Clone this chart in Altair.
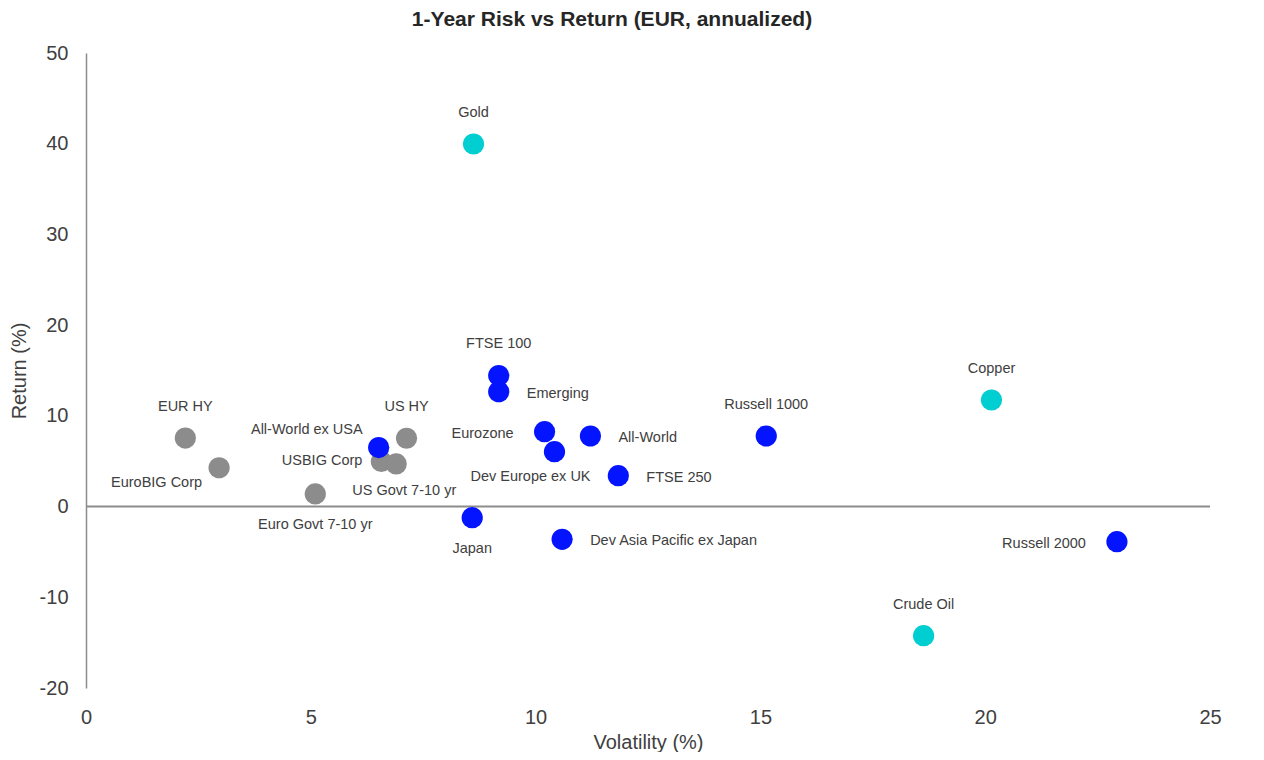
import altair as alt
import pandas as pd

# ---- data ----
names = ["EUR HY", "EuroBIG  Corp", "Euro Govt 7-10 yr", "USBIG Corp", "US Govt 7-10  yr", "US HY",
         "Gold", "Copper", "Crude Oil",
         "All-World ex USA", "FTSE 100", "Emerging", "Eurozone", "Dev Europe  ex UK", "All-World",
         "FTSE 250", "Russell 1000", "Japan", "Dev Asia Pacific ex Japan", "Russell 2000"]
volatility = [2.21, 2.96, 5.10, 6.57, 6.90, 7.13,
              8.62, 20.14, 18.63,
              6.51, 9.18, 9.18, 10.20, 10.42, 11.22,
              11.84, 15.13, 8.59, 10.59, 22.93]
returns = [7.55, 4.28, 1.39, 4.98, 4.70, 7.53,
           39.97, 11.75, -14.23,
           6.50, 14.45, 12.67, 8.26, 6.05, 7.78,
           3.41, 7.78, -1.22, -3.61, -3.87]
groups = ["Bonds"] * 6 + ["Commodities"] * 3 + ["Equities"] * 11
placement = ["above", "lower_left", "below", "left_near", "below_right", "above",
             "above", "above", "above",
             "upper_left", "above", "right", "left", "below_left", "right",
             "right", "above", "below", "right", "left"]

x_ticks = [0, 5, 10, 15, 20, 25]
y_ticks = [-20, -10, 0, 10, 20, 30, 40, 50]

df = pd.DataFrame({"name": names, "vol": volatility, "ret": returns,
                   "group": groups, "place": placement})
zero_df = pd.DataFrame({"x0": [x_ticks[0]], "x1": [x_ticks[-1]], "y": [0]})

# ---- styles ----
FONT = "Liberation Sans"
LABEL_COLOR = "#404040"
group_colors = {"Bonds": "#8c8c8c", "Commodities": "#00ced1", "Equities": "#0514ff"}
presets = {
    "above": ("center", 0, -31),
    "below": ("center", 0, 31),
    "right": ("left", 28, 2),
    "left": ("right", -31, 2),
    "left_near": ("right", -19, 0),
    "upper_left": ("right", -16, -18),
    "lower_left": ("right", -17, 15),
    "below_left": ("center", -24, 25),
    "below_right": ("center", 8, 27),
}

xscale = alt.Scale(domain=[x_ticks[0], x_ticks[-1]], nice=False, zero=False)
yscale = alt.Scale(domain=[y_ticks[0], y_ticks[-1]], nice=False, zero=False)

base = alt.Chart(df)

zero_line = alt.Chart(zero_df).mark_rule(color="#8c8c8c", strokeWidth=2).encode(
    x=alt.X("x0:Q", scale=xscale),
    x2="x1:Q",
    y=alt.Y("y:Q", scale=yscale),
)

points = base.mark_circle(size=450, opacity=1).encode(
    x=alt.X("vol:Q", scale=xscale, title="Volatility (%)",
            axis=alt.Axis(values=x_ticks, grid=False, domain=False, ticks=False, tickSize=0,
                          labelPadding=19, titlePadding=5, labelFontSize=20, titleFontSize=20,
                          labelColor="#404040", titleColor="#404040", titleFontWeight="normal",
                          labelFont=FONT, titleFont=FONT, labelBaseline="top",
                          labelFlush=False, labelExpr="'' + datum.value")),
    y=alt.Y("ret:Q", scale=yscale, title="Return (%)",
            axis=alt.Axis(values=y_ticks, grid=False, domain=True, domainColor="#8c8c8c",
                          domainWidth=1.5, ticks=False, tickSize=0, labelPadding=18,
                          titlePadding=10, labelFontSize=20, titleFontSize=20,
                          labelColor="#404040", titleColor="#404040", titleFontWeight="normal",
                          labelFont=FONT, titleFont=FONT, labelFlush=False,
                          labelExpr="'' + datum.value")),
    color=alt.Color("group:N",
                    scale=alt.Scale(domain=list(group_colors.keys()),
                                    range=list(group_colors.values())),
                    legend=None),
)

label_layers = []
for key, (align, dx, dy) in presets.items():
    label_layers.append(
        base.transform_filter(alt.datum.place == key).mark_text(
            align=align, baseline="middle", dx=dx, dy=dy, font=FONT, fontSize=14.5,
            color=LABEL_COLOR
        ).encode(x=alt.X("vol:Q", scale=xscale), y=alt.Y("ret:Q", scale=yscale), text="name:N")
    )

chart = alt.layer(zero_line, points, *label_layers).properties(
    width=1124,
    height=635,
    title=alt.TitleParams("1-Year Risk vs Return (EUR, annualized)", font=FONT, fontSize=21,
                          fontWeight="bold", color="#262626", anchor="middle", dx=-36,
                          offset=13),
    autosize=alt.AutoSizeParams(type="none"),
    padding={"left": 78, "top": 45, "right": 46, "bottom": 64},
).configure(background="white", view=alt.ViewConfig(stroke="transparent", strokeWidth=0))

chart.save("out.html", embed_options={"renderer": "svg", "actions": False})
